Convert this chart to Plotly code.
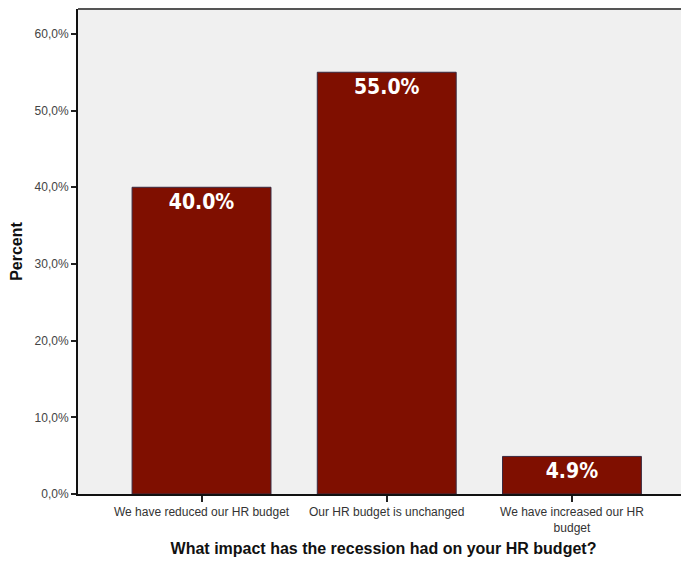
import plotly.graph_objects as go

categories = ["We have reduced our HR budget", "Our HR budget is unchanged",
              "We have increased our HR<br>budget"]
values = [40.0, 55.0, 4.9]
tick_vals = [0, 10, 20, 30, 40, 50, 60]
tick_text = ["0,0%", "10,0%", "20,0%", "30,0%", "40,0%", "50,0%", "60,0%"]

fig = go.Figure(go.Bar(
    x=[0, 1, 2], y=values,
    width=0.75,
    marker=dict(color="#7f0f00", line=dict(color="#3a2a40", width=1)),
    texttemplate="%{y:.1f}%",
    textposition="inside",
    insidetextanchor="end",
    textangle=0,
    textfont=dict(family="DejaVu Sans Condensed, Liberation Sans Narrow, Arial Narrow", size=21,
                  color="white", weight="bold"),
    hoverinfo="skip",
))

fig.update_layout(
    width=681, height=553,
    margin=dict(l=70, r=0, t=1, b=67),
    paper_bgcolor="white", plot_bgcolor="#f0f0f0",
    showlegend=False,
    font=dict(family="Liberation Sans, Arial", color="#333333"),
    xaxis=dict(
        range=[-0.667, 2.632],
        tickvals=[0, 1, 2], ticktext=categories,
        ticks="outside", ticklen=6, tickcolor="#222", tickwidth=1.5,
        tickfont=dict(size=12, color="#333"),
        showline=True, linecolor="#111", linewidth=2,
        showgrid=False, zeroline=False,
        title=dict(text="What impact has the recession had on your HR budget?",
                   font=dict(size=16, color="#111", weight="bold"), standoff=9),
    ),
    yaxis=dict(
        range=[0, 63.25],
        tickvals=tick_vals, ticktext=tick_text,
        ticks="outside", ticklen=5, tickcolor="#222", tickwidth=1.5,
        tickfont=dict(size=12, color="#444"),
        showline=True, linecolor="#111", linewidth=2,
        showgrid=False, zeroline=False,
        title=dict(text="Percent", font=dict(size=16, color="#111", weight="bold"), standoff=10),
    ),
    shapes=[dict(type="line", xref="paper", yref="paper", x0=0, x1=1, y0=1, y1=1,
                 line=dict(color="#555", width=2))],
)

fig.write_html("out.html")
